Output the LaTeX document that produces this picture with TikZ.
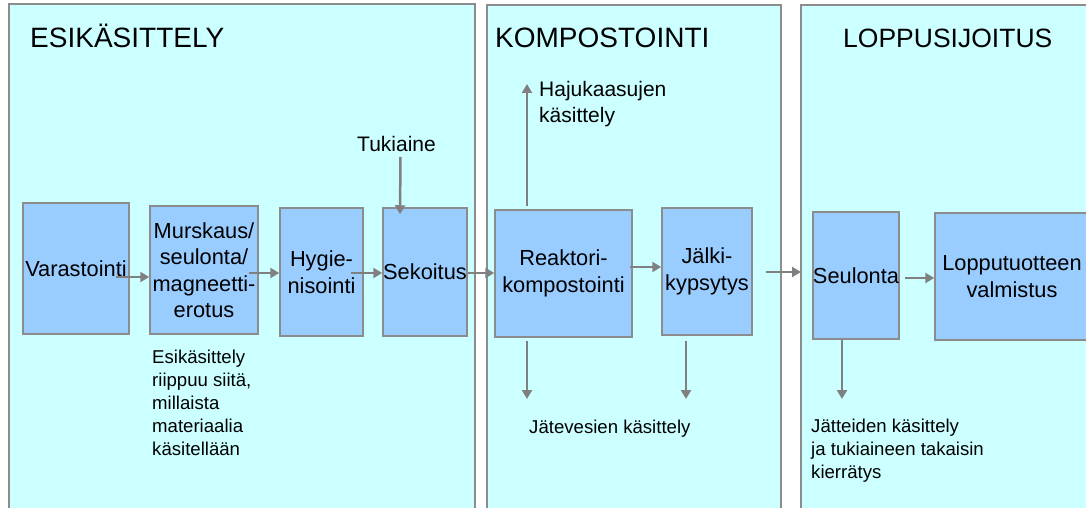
\documentclass[tikz,border=0pt]{standalone}
\usepackage{fontspec}
\setmainfont{Liberation Sans}
\usetikzlibrary{arrows.meta,calc}
\definecolor{panelfill}{HTML}{CCFFFF}
\definecolor{boxfill}{HTML}{99CCFF}
\definecolor{linegray}{HTML}{8C8C8C}
\definecolor{arrgray}{HTML}{808080}
\tikzset{
  panel/.style={fill=panelfill,draw=linegray,line width=1.5pt},
  procbox/.style={draw=linegray,fill=boxfill,line width=1.5pt,inner sep=0pt,align=center,
    font=\fontsize{21.8}{26.5}\selectfont},
  arr/.style={draw=arrgray,line width=2.5pt,-{Triangle[length=9pt,width=10pt]}},
  title/.style={inner sep=0pt,anchor=base west,font=\fontsize{28}{32}\selectfont},
  lbl/.style={inner sep=0pt,align=left,font=\fontsize{21}{26}\selectfont},
  note/.style={inner sep=0pt,align=left,font=\fontsize{18.6}{23}\selectfont},
}
\begin{document}
\begin{tikzpicture}[x=1pt,y=-1pt]
\useasboundingbox (0,0) rectangle (1086,508);
\clip (0,0) rectangle (1086,508);
\fill[white] (0,0) rectangle (1086,508);
% panels
\draw[panel] (9,4) rectangle (475,530);
\draw[panel] (487,5) rectangle (781,530);
\draw[panel] (801,5) rectangle (1110,530);
% titles
\node[title] (t1) at (30,48) {ESIKÄSITTELY};
\node[title] (t2) at (495,48) {KOMPOSTOINTI};
\node[title,font=\fontsize{26.5}{32}\selectfont] (t3) at (843,48) {LOPPUSIJOITUS};
% process boxes
\node[procbox,minimum width=106pt,minimum height=131pt] (vara) at (76,268.5) {Varastointi};
\node[procbox,minimum width=108pt,minimum height=128pt] (murs) at (204,270) {Murskaus/\\seulonta/\\magneetti-\\erotus};
\node[procbox,minimum width=83pt,minimum height=128pt] (hyg) at (321.5,272) {Hygie-\\nisointi};
\node[procbox,minimum width=84pt,minimum height=128pt] (sek) at (425,272) {Sekoitus};
\node[procbox,minimum width=137pt,minimum height=127pt] (reak) at (563.5,273.5) {Reaktori-\\kompostointi};
\node[procbox,minimum width=90pt,minimum height=127pt] (jalk) at (707,271.5) {Jälki-\\kypsytys};
\node[procbox,minimum width=86pt,minimum height=127pt] (seul) at (856,275.5) {Seulonta};
\node[procbox,minimum width=154pt,minimum height=127pt] (lopp) at (1012,276.5) {Lopputuotteen\\valmistus};
% labels
\node[lbl,anchor=base west] (tuki) at (357,151) {Tukiaine};
\node[lbl,anchor=north west] (haju) at (539,81) {Hajukaasujen\\käsittely};
\node[note,anchor=north west] (esi) at (152,350) {Esikäsittely\\riippuu siitä,\\millaista\\materiaalia\\käsitellään};
\node[note,anchor=base west] (jate) at (529,433) {Jätevesien käsittely};
\node[note,anchor=north west] (jatt) at (811,419) {Jätteiden käsittely\\ja tukiaineen takaisin\\kierrätys};
% free ends
\coordinate (hajuend) at (527,84);
\coordinate (reakdown) at (527,399);
\coordinate (jalkdown) at (686,399);
\coordinate (seuldown) at (842,399);
\coordinate (seulin) at (801,272);
% connectors
\draw[arr] ($(vara.east)+(-14,8.5)$) -- ($(murs.west)+(0,7)$);
\draw[arr] ($(murs.east)+(-10,3)$) -- ($(hyg.west)+(0,1)$);
\draw[arr] ($(hyg.east)+(-13,1)$) -- ($(sek.west)+(0,1)$);
\draw[arr] ($(sek.east)+(0,1)$) -- ($(reak.west)+(0,-0.5)$);
\draw[arr] ($(reak.east)+(-3,-6.5)$) -- ($(jalk.west)+(0,-4.5)$);
\draw[arr] ($(jalk.east)+(13,0.5)$) -- (seulin);
\draw[arr] ($(seul.east)+(5,2.5)$) -- ($(lopp.west)+(0,1.5)$);
\draw[arr] ($(tuki.base)+(4,6)$) -- ($(sek.north)+(-25,7)$);
\draw[arr] ($(reak.north)+(-36.5,-3)$) -- (hajuend);
\draw[arr] ($(reak.south)+(-36.5,3)$) -- (reakdown);
\draw[arr] ($(jalk.south)+(-21,5)$) -- (jalkdown);
\draw[arr] ($(seul.south)+(-14,0)$) -- (seuldown);
\end{tikzpicture}
\end{document}
